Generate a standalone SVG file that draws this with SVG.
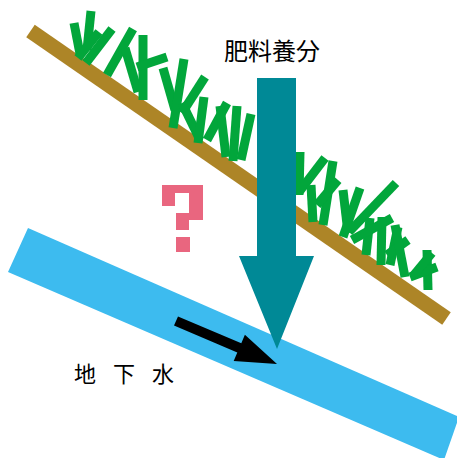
<svg xmlns="http://www.w3.org/2000/svg" width="457" height="458" viewBox="0 0 457 458">
  <style>
    .soil { stroke: #ad8527; stroke-width: 15; fill: none; }
    .grass line { stroke: #02a63b; stroke-width: 9; stroke-linecap: butt; }
    .water { fill: #3dbbef; }
    .feed { fill: #008996; }
    .flow { fill: #000000; }
    .mark { fill: #e9667f; }
    .label { font-family: "Liberation Serif", "Noto Sans CJK JP", serif; fill: #000000; }
  </style>

  <!-- groundwater band -->
  <g id="groundwater">
    <polygon class="water" points="28,228 459,417 444,460 8,272"/>
  </g>

  <!-- sloped soil surface -->
  <g id="soil">
    <line class="soil" x1="30.5" y1="31" x2="446.5" y2="318.5"/>
  </g>

  <!-- grass on the slope -->
  <g id="grass" class="grass">
    <line x1="74" y1="23" x2="80" y2="54"/>
    <line x1="91" y1="11" x2="87" y2="50"/>
    <line x1="99" y1="32" x2="78" y2="58"/>
    <line x1="112" y1="29" x2="86" y2="63"/>
    <line x1="133" y1="29" x2="107" y2="75"/>
    <line x1="125" y1="48" x2="138" y2="92"/>
    <line x1="143" y1="35" x2="143" y2="100"/>
    <line x1="167" y1="57" x2="137" y2="67"/>

    <line x1="163" y1="68" x2="175" y2="110"/>
    <line x1="184" y1="59" x2="173" y2="128"/>
    <line x1="205" y1="77" x2="182" y2="113"/>
    <line x1="182" y1="103" x2="200" y2="140"/>
    <line x1="204" y1="97" x2="198" y2="143"/>

    <line x1="227" y1="103" x2="207" y2="140"/>
    <line x1="220" y1="106" x2="226" y2="157"/>
    <line x1="237" y1="106" x2="233" y2="161"/>
    <line x1="251" y1="114" x2="241" y2="160"/>

    <line x1="300" y1="152" x2="299" y2="195"/>
    <line x1="325" y1="158" x2="299" y2="192"/>
    <line x1="333" y1="161" x2="323" y2="225"/>
    <line x1="338" y1="180" x2="317" y2="205"/>
    <line x1="311" y1="185" x2="313" y2="222"/>
    <line x1="360" y1="188" x2="343" y2="237"/>
    <line x1="343" y1="190" x2="348" y2="233"/>
    <line x1="396" y1="183" x2="349" y2="232"/>
    <line x1="370" y1="218" x2="366" y2="255"/>
    <line x1="382" y1="217" x2="381" y2="265"/>
    <line x1="392" y1="218" x2="352" y2="240"/>
    <line x1="398" y1="227" x2="390" y2="265"/>
    <line x1="408" y1="240" x2="387" y2="255"/>
    <line x1="395" y1="225" x2="405" y2="277"/>
    <line x1="427" y1="250" x2="428" y2="290"/>
    <line x1="437" y1="267" x2="410" y2="277"/>
    <line x1="432" y1="253" x2="413" y2="276"/>
  </g>

  <!-- fertiliser nutrients going down -->
  <g id="nutrients">
    <polygon class="feed" points="257,78 296,78 296,256 314,256 277,349 239,256 257,256"/>
    <text class="label" x="224" y="60" font-size="24">肥料養分</text>
  </g>

  <!-- unknown pathway -->
  <g id="question">
    <path class="mark" d="M162,185 H203 V220 H189 V230 H176 V213 H189 V193 H175 V206 H162 Z"/>
    <rect class="mark" x="176" y="237" width="14" height="15"/>
  </g>

  <!-- groundwater label -->
  <g id="groundwater-label">
    <text class="label" x="74 96 113 135 152" y="382" font-size="22">地 下 水</text>
  </g>

  <!-- groundwater flow direction -->
  <g id="connectors">
    <polygon class="flow" points="174,325.6 178,316.4 241.3,343.3 244.9,334.7 277,364 233.7,361.1 237.3,352.5"/>
  </g>
</svg>
